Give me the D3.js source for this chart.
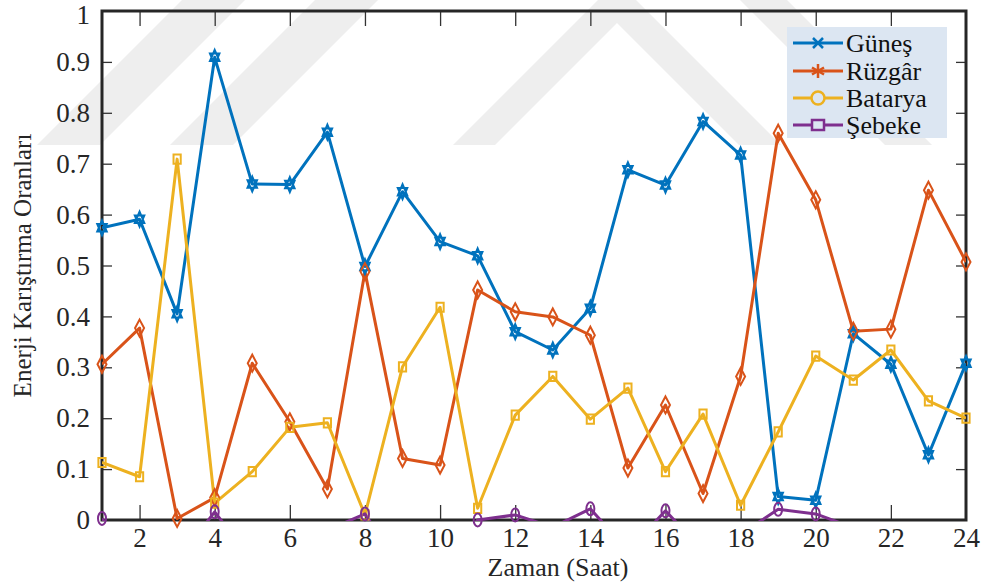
<!DOCTYPE html>
<html>
<head>
<meta charset="utf-8">
<script src="https://cdn.jsdelivr.net/npm/d3@7"></script>
<style>
  html, body { margin: 0; padding: 0; background: #ffffff; }
  svg { display: block; }
  text { font-family: "Liberation Serif", "Times New Roman", Tinos, "DejaVu Serif Condensed", "DejaVu Serif", serif; }
</style>
</head>
<body>
<svg id="chart" width="983" height="586"></svg>
<script>
// ---------- data ----------
const hours = [1,2,3,4,5,6,7,8,9,10,11,12,13,14,15,16,17,18,19,20,21,22,23,24];
const gunes   = [0.574,0.591,0.405,0.909,0.660,0.659,0.762,0.498,0.645,0.547,0.519,0.370,0.334,0.416,0.688,0.658,0.783,0.717,0.046,0.039,0.366,0.306,0.128,0.308];
const ruzgar  = [0.306,0.377,0.003,0.044,0.308,0.193,0.061,0.488,0.121,0.108,0.452,0.409,0.399,0.363,0.102,0.226,0.052,0.282,0.760,0.629,0.371,0.375,0.648,0.507];
const batarya = [0.113,0.085,0.709,0.033,0.095,0.182,0.191,0.010,0.301,0.418,0.023,0.206,0.282,0.198,0.259,0.095,0.208,0.029,0.173,0.322,0.275,0.334,0.234,0.200];
const sebeke  = [0.003,-0.100,-0.080,0.016,-0.080,-0.060,-0.020,0.012,-0.100,-0.100,0.000,0.010,-0.014,0.022,-0.060,0.018,-0.060,-0.028,0.021,0.012,-0.015,-0.030,-0.030,-0.030];
const seriesNames = ["Güneş","Rüzgâr","Batarya","Şebeke"];
const xTickValues = [2,4,6,8,10,12,14,16,18,20,22,24];
const yTickValues = [0,0.1,0.2,0.3,0.4,0.5,0.6,0.7,0.8,0.9,1];
const xLabel = "Zaman (Saat)";
const yLabel = "Enerji Karıştırma Oranları";

// ---------- layout ----------
const L = 102, R = 966, T = 11, B = 520;
const colors = ["#0072BD","#D95319","#EDB120","#7E2F8E"];
const axisColor = "#262626";
const FONT = '"Liberation Serif", "Times New Roman", Tinos, "DejaVu Serif Condensed", "DejaVu Serif", serif';

const svg = d3.select("#chart");
const x = d3.scaleLinear().domain([1,24]).range([L,R]);
const y = d3.scaleLinear().domain([0,1]).range([B,T]);

// ---------- watermark (decorative background) ----------
const wm = svg.append("g").attr("fill","#eeeeee");
const wmShapes = [
  [[37,145],[100,145],[245,0],[182,0]],
  [[170,145],[233,145],[378,0],[315,0]],
  [[453,145],[495,145],[617,23],[739,145],[781,145],[617,-19]],
  [[740,0],[787,0],[932,145],[885,145]]
];
wmShapes.forEach(p => wm.append("polygon").attr("points", p.map(d=>d.join(",")).join(" ")));

// ---------- axes ----------
const gx = svg.append("g").attr("transform",`translate(0,${B})`)
  .call(d3.axisBottom(x).tickValues(xTickValues).tickSizeInner(-15).tickSizeOuter(0).tickPadding(8).tickFormat(d3.format("d")));
const gxt = svg.append("g").attr("transform",`translate(0,${T})`)
  .call(d3.axisTop(x).tickValues(xTickValues).tickSizeInner(-15).tickSizeOuter(0).tickFormat(""));
const gy = svg.append("g").attr("transform",`translate(${L},0)`)
  .call(d3.axisLeft(y).tickValues(yTickValues).tickSizeInner(-10).tickSizeOuter(0).tickPadding(12)
        .tickFormat(d => d === 0 ? "0" : d === 1 ? "1" : d3.format(".1f")(d)));
const gyr = svg.append("g").attr("transform",`translate(${R},0)`)
  .call(d3.axisRight(y).tickValues(yTickValues).tickSizeInner(-10).tickSizeOuter(0).tickFormat(""));

[gx,gxt,gy,gyr].forEach(g => {
  g.attr("font-family", FONT);
  g.select(".domain").remove();
  g.selectAll(".tick line").attr("stroke", "#333").attr("stroke-width", 1.3);
  g.selectAll(".tick text").attr("fill", axisColor).attr("font-size", 27);
});
gy.selectAll(".tick").filter(d => d === 1).select("text").attr("dy", "0.45em");
gx.selectAll(".tick").filter(d => d === 24).select("line").remove();
gxt.selectAll(".tick").filter(d => d === 24).remove();
gy.selectAll(".tick").filter(d => d === 0 || d === 1).select("line").remove();
gyr.selectAll(".tick").filter(d => d === 0 || d === 1).remove();

// box
svg.append("rect").attr("x",L).attr("y",T).attr("width",R-L).attr("height",B-T)
  .attr("fill","none").attr("stroke",axisColor).attr("stroke-width",3);

// labels
svg.append("text").attr("x",558).attr("y",576).attr("text-anchor","middle")
  .attr("font-size",26).attr("fill",axisColor).text(xLabel);
svg.append("text").attr("transform",`translate(31,${(T+B)/2}) rotate(-90)`).attr("text-anchor","middle")
  .attr("font-size",25).attr("fill",axisColor).text(yLabel);

// ---------- data ----------
svg.append("defs").append("clipPath").attr("id","plotclip")
  .append("rect").attr("x",L).attr("y",T-2).attr("width",R-L).attr("height",B-T+3);

const allSeries = [gunes, ruzgar, batarya, sebeke];
const line = d3.line().x((d,i)=>x(hours[i])).y(d=>y(d));

function hexagram(cx, cy, rx=5.5, ry=7.5) {
  const pts = a => [0,1,2].map(k => {
    const ang = a + k*2*Math.PI/3;
    return [cx + rx*Math.sin(ang), cy - ry*Math.cos(ang)];
  });
  const t1 = pts(0), t2 = pts(Math.PI);
  return "M" + t1.join("L") + "Z M" + t2.join("L") + "Z";
}
function diamond(cx, cy, rx=4.5, ry=8.5) {
  return `M${cx},${cy-ry}L${cx+rx},${cy}L${cx},${cy+ry}L${cx-rx},${cy}Z`;
}
function square(cx, cy, rx=3.6, ry=4.6) {
  return `M${cx-rx},${cy-ry}H${cx+rx}V${cy+ry}H${cx-rx}Z`;
}
function ellipse(cx, cy, rx=4, ry=6.5) {
  return `M${cx-rx},${cy}A${rx},${ry} 0 1,0 ${cx+rx},${cy}A${rx},${ry} 0 1,0 ${cx-rx},${cy}Z`;
}
const markerFns = [hexagram, diamond, square, ellipse];

const dataG = svg.append("g");
allSeries.forEach((vals, si) => {
  dataG.append("path").datum(vals).attr("d", line)
    .attr("fill","none").attr("stroke",colors[si]).attr("stroke-width",3)
    .attr("stroke-linejoin","round").attr("clip-path","url(#plotclip)");
});
allSeries.forEach((vals, si) => {
  dataG.append("g").selectAll("path")
    .data(vals.map((v,i)=>({v,i})).filter(d => d.v >= 0 && d.v <= 1))
    .join("path")
    .attr("d", d => markerFns[si](x(hours[d.i]), y(d.v)))
    .attr("fill","none").attr("stroke",colors[si]).attr("stroke-width",2);
});

// ---------- legend ----------
const lg = svg.append("g");
lg.append("rect").attr("x",787).attr("y",27).attr("width",160).attr("height",111)
  .attr("fill","#dce6f2");
const rowY = [43,71,98,125];
seriesNames.forEach((name, i) => {
  const yy = rowY[i], c = colors[i];
  lg.append("line").attr("x1",793).attr("x2",843).attr("y1",yy).attr("y2",yy)
    .attr("stroke",c).attr("stroke-width",3);
  const mx = 818;
  if (i === 0) {
    lg.append("path").attr("d",`M${mx-5},${yy-5}L${mx+5},${yy+5}M${mx-5},${yy+5}L${mx+5},${yy-5}`)
      .attr("stroke",c).attr("stroke-width",2.5);
  } else if (i === 1) {
    lg.append("path").attr("d",`M${mx},${yy-7}V${yy+7}M${mx-6},${yy-3.5}L${mx+6},${yy+3.5}M${mx-6},${yy+3.5}L${mx+6},${yy-3.5}`)
      .attr("stroke",c).attr("stroke-width",2.5);
  } else if (i === 2) {
    lg.append("circle").attr("cx",mx).attr("cy",yy).attr("r",6.5)
      .attr("fill","#dce6f2").attr("stroke",c).attr("stroke-width",2.5);
  } else {
    lg.append("rect").attr("x",mx-6).attr("y",yy-5).attr("width",12).attr("height",10)
      .attr("fill","#dce6f2").attr("stroke",c).attr("stroke-width",2.5);
  }
  lg.append("text").attr("x",846).attr("y",yy+9).attr("font-size",26)
    .attr("fill","#111").text(name);
});
</script>
</body>
</html>
